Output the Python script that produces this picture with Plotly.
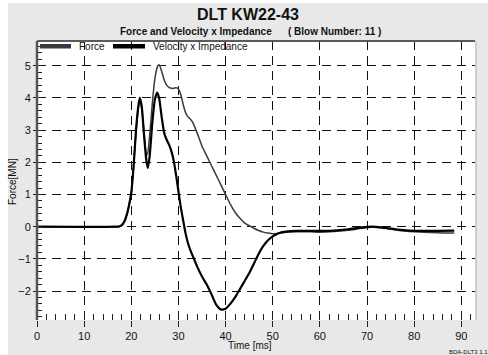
import plotly.graph_objects as go

# Time base [ms]
time_ms = [0, 17, 17.5, 18, 18.5, 19, 19.5, 20, 20.5, 21, 21.5, 21.8, 22.2, 22.7,
           23.2, 23.5, 23.9, 24.5, 25, 25.5, 25.9, 26.5, 27, 27.5, 28, 28.5, 29,
           29.5, 30, 30.5, 31, 31.5, 32, 32.5, 33, 34, 35, 36, 37, 38, 39, 40, 41,
           42, 43, 44, 45, 46, 47, 48, 49, 50, 51, 52, 55, 58, 60, 63, 66, 69, 71,
           73, 76, 79, 82, 85, 88.5]

# Measured force [MN]
force = [0, 0, 0.01, 0.05, 0.15, 0.35, 0.65, 1.05, 1.9, 2.95, 3.7, 3.95, 3.7, 2.95,
         2.22, 2.3, 2.85, 3.9, 4.6, 4.95, 5.03, 4.8, 4.55, 4.4, 4.33, 4.3, 4.3,
         4.32, 4.28, 4.1, 3.8, 3.55, 3.42, 3.35, 3.25, 2.9, 2.5, 2.2, 1.9, 1.6, 1.3,
         1.0, 0.7, 0.45, 0.27, 0.12, 0.03, -0.05, -0.12, -0.17, -0.2, -0.22, -0.21,
         -0.19, -0.16, -0.16, -0.17, -0.15, -0.11, -0.05, -0.02, -0.03, -0.1, -0.15,
         -0.17, -0.19, -0.2]

# Velocity x impedance [MN]
velocity_imp = [0, 0, 0.01, 0.05, 0.15, 0.35, 0.65, 1.05, 1.9, 3.0, 3.75, 4.0, 3.75,
                2.85, 2.05, 1.82, 2.2, 3.3, 3.95, 4.17, 4.0, 3.35, 2.9, 2.7, 2.55,
                2.35, 2.05, 1.6, 1.1, 0.6, 0.2, -0.2, -0.5, -0.72, -0.9, -1.25, -1.55,
                -1.8, -2.1, -2.42, -2.57, -2.55, -2.4, -2.2, -1.95, -1.7, -1.45, -1.15,
                -0.85, -0.6, -0.42, -0.3, -0.22, -0.17, -0.13, -0.13, -0.13, -0.12,
                -0.08, -0.02, 0.0, -0.02, -0.08, -0.12, -0.13, -0.13, -0.12]

x_ticks = [0, 10, 20, 30, 40, 50, 60, 70, 80, 90]
y_ticks = [-2, -1, 0, 1, 2, 3, 4, 5]

FONT = "Liberation Sans, Arial, sans-serif"
W, H = 488, 355
ML, MR, MT, MB = 37, 13, 41, 35
PW, PH = W - ML - MR, H - MT - MB


def px(x):
    return (x - ML) / PW


def py(y):
    return (H - MB - y) / PH


fig = go.Figure()
fig.add_trace(go.Scatter(x=time_ms, y=force, mode="lines", name="Force",
                         line=dict(color="#3a3a3a", width=1.5, shape="spline",
                                   smoothing=0.6)))
fig.add_trace(go.Scatter(x=time_ms, y=velocity_imp, mode="lines",
                         name="Velocity x Impedance",
                         line=dict(color="#000000", width=2.2, shape="spline",
                                   smoothing=0.6)))

shapes = [
    # white page strips around the grey panel
    dict(type="rect", xref="paper", yref="paper", x0=px(0), x1=px(8), y0=py(H),
         y1=py(0), fillcolor="white", line_width=0, layer="below"),
    dict(type="rect", xref="paper", yref="paper", x0=px(0), x1=px(W), y0=py(3),
         y1=py(0), fillcolor="white", line_width=0, layer="below"),
    # frame lines
    dict(type="line", xref="paper", yref="paper", x0=0, x1=1, y0=1, y1=1,
         line=dict(color="#5a5a5a", width=2)),
    dict(type="line", xref="paper", yref="paper", x0=px(476), x1=px(476),
         y0=py(320), y1=1, line=dict(color="#cdcdcd", width=2)),
    dict(type="line", xref="paper", yref="paper", x0=0, x1=0, y0=0, y1=1,
         line=dict(color="#555555", width=2.5)),
    # legend swatches
    dict(type="rect", xref="paper", yref="paper", x0=px(40), x1=px(71),
         y0=py(48.5), y1=py(44), fillcolor="#3a3a3a", line_width=0),
    dict(type="rect", xref="paper", yref="paper", x0=px(113), x1=px(145),
         y0=py(48.5), y1=py(44), fillcolor="#000000", line_width=0),
]

ann = [
    dict(text="<b>DLT KW22-43</b>", x=px(248), y=py(14), font=dict(size=16)),
    dict(text="<b>Force and Velocity x Impedance</b>", x=px(196), y=py(31),
         font=dict(size=10)),
    dict(text="<b>( Blow Number: 11 )</b>", x=px(334), y=py(31),
         font=dict(size=10)),
    dict(text="Force", x=px(77), y=py(46.5), xanchor="left", font=dict(size=10)),
    dict(text="Velocity x Impedance", x=px(151), y=py(46.5), xanchor="left",
         font=dict(size=10)),
    dict(text="Time [ms]", x=px(250), y=py(345), font=dict(size=10)),
    dict(text="Force[MN]", x=px(12), y=py(182), textangle=-90, font=dict(size=10)),
    dict(text="BDA-DLT3 1.1", x=px(447), y=py(352), xanchor="left",
         font=dict(size=6)),
]
for a in ann:
    a.setdefault("xanchor", "center")
    a.update(xref="paper", yref="paper", yanchor="middle", showarrow=False)
    a["font"].update(family=FONT, color="#111111")

grid = dict(showgrid=True, gridcolor="#111111", gridwidth=1, griddash="9px,6px",
            zeroline=False, showline=False)

fig.update_layout(
    width=W, height=H,
    margin=dict(l=ML, r=MR, t=MT, b=MB, pad=0),
    paper_bgcolor="#e8e8e8", plot_bgcolor="white",
    showlegend=False,
    font=dict(family=FONT, size=11, color="#111111"),
    shapes=shapes, annotations=ann,
    xaxis=dict(range=[0, 92.9], tickvals=x_ticks, ticks="outside", ticklen=6,
               tickcolor="#222222", tickwidth=1,
               minor=dict(dtick=2, ticks="inside", ticklen=6, tickcolor="#222222",
                          showgrid=False),
               tickfont=dict(size=11), **grid),
    yaxis=dict(range=[-2.9, 5.77], tickvals=y_ticks, ticks="outside", ticklen=3,
               tickcolor="#222222", tickwidth=1,
               minor=dict(dtick=0.2, ticks="inside", ticklen=5,
                          tickcolor="#222222", showgrid=False),
               tickfont=dict(size=11), **grid),
)

fig.write_html("out.html")
